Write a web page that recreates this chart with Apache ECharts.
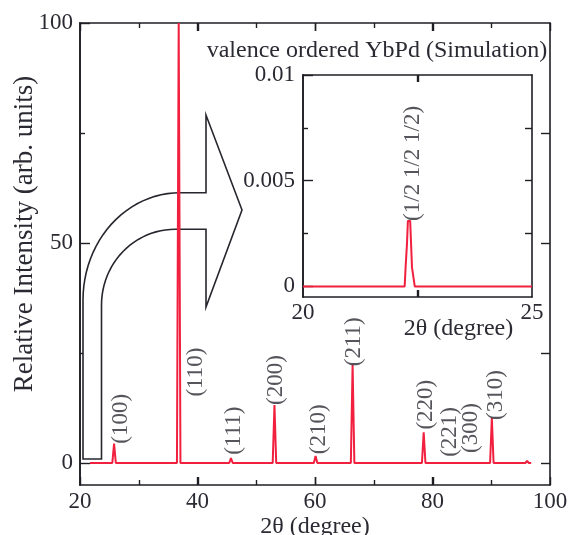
<!DOCTYPE html>
<html>
<head>
<meta charset="utf-8">
<script src="https://cdn.jsdelivr.net/npm/echarts@6/dist/echarts.min.js"></script>
<style>
  html, body { margin: 0; padding: 0; background: #fff; }
  #main { width: 571px; height: 535px; }
</style>
</head>
<body>
<div id="main"></div>
<script>
// main pattern, 2theta (deg) vs relative intensity
var mainPattern = [
    [21.7, 0], [25.5, 0], [25.8, 4.4], [26.1, 0],
    [36.5, 0], [36.8, 100], [37.1, 0],
    [45.4, 0], [45.7, 1.1], [46.0, 0],
    [52.8, 0], [53.1, 13.2], [53.4, 0],
    [59.8, 0], [60.1, 1.6], [60.4, 0],
    [66.1, 0], [66.4, 22.3], [66.7, 0],
    [78.2, 0], [78.5, 7.0], [78.8, 0],
    [83.9, 0], [84.2, 0.4], [84.5, 0],
    [89.8, 0], [90.1, 10.2], [90.4, 0],
    [95.8, 0], [96.1, 0.5], [96.4, 0], [96.8, 0]
];

// peak labels: name, 2theta, intensity at label foot
var peakNames = ['(100)', '(110)', '(111)', '(200)', '(210)', '(211)', '(220)', '(221)', '(300)', '(310)'];
var peakLabelX = [26.9, 39.7, 46.2, 53.4, 60.6, 66.6, 78.9, 82.9, 86.6, 90.8];
var peakLabelY = [4.4, 15.1, 1.9, 13.2, 2.0, 22.0, 7.6, 1.4, 2.3, 9.8];

// inset: superlattice peak
var insetPattern = [
    [20, 0], [22.22, 0], [22.24, 0.0009], [22.26, 0.0009], [22.27, 0.002],
    [22.29, 0.0031], [22.34, 0.0031], [22.36, 0.002], [22.38, 0.0009],
    [22.40, 0.0009], [22.44, 0], [25, 0]
];
var insetLabel = ['(1/2 1/2 1/2)', 22.4, 0.0031];

var mainXTicks = [20, 40, 60, 80, 100];
var mainXMinor = [30, 50, 70, 90];
var mainYTicks = [0, 50, 100];
var mainYMinor = [25, 75];
var insetXTicks = [20, 25];
var insetXMinor = [22.5];
var insetYTicks = [0, 0.005, 0.01];
var insetYMinor = [0.0025, 0.0075];

var FONT = 'Liberation Serif';
var TXT = '#2a2a33';
var AX = '#1e1e24';
var RED = '#f2203f';

var chart = echarts.init(document.getElementById('main'));

function axLine() {
    return { show: true, onZero: false, lineStyle: { color: AX, width: 1.6 } };
}
function ticks(vals, len) {
    return { show: true, inside: true, length: len, customValues: vals, lineStyle: { color: AX, width: 1.4 } };
}
function bare(pos, grid, min, max, tickVals, len) {
    return {
        type: 'value', gridIndex: grid, position: pos, min: min, max: max,
        axisLine: axLine(), axisTick: ticks(tickVals, len),
        axisLabel: { show: false }, splitLine: { show: false }
    };
}

// quarter ellipse from angle a0 to a1 (degrees, screen coords)
function arcPts(cx, cy, rx, ry, a0, a1) {
    var pts = [];
    for (var i = 0; i <= 24; i++) {
        var a = (a0 + (a1 - a0) * i / 24) * Math.PI / 180;
        pts.push([cx + rx * Math.cos(a), cy + ry * Math.sin(a)]);
    }
    return pts;
}

// hollow curved arrow outline (pixels)
var arrowPts = [[83, 459], [101.5, 459], [101.5, 305]]
    .concat(arcPts(175, 305, 73.5, 75.7, 180, 270))
    .concat([[206, 229.3], [206, 307], [242, 210], [206, 115], [206, 192.7], [180, 192.7]])
    .concat(arcPts(180, 300, 97, 107.3, 270, 180))
    .concat([[83, 300]]);

var arrow = {
    type: 'polygon', z: 1,
    shape: { points: arrowPts },
    style: { fill: '#fff', stroke: '#26262e', lineWidth: 1.6 }
};

var peakData = peakNames.map(function (n, i) {
    return { name: n, value: [peakLabelX[i], peakLabelY[i]] };
});

var mainX = bare('bottom', 0, 20, 100, mainXTicks, 8);
mainX.axisLabel = { fontFamily: FONT, fontSize: 23, color: TXT, margin: 5, customValues: mainXTicks };
mainX.name = '2θ (degree)';
mainX.nameLocation = 'middle';
mainX.nameGap = 30;
mainX.nameMoveOverlap = false;
mainX.nameTextStyle = { fontFamily: FONT, fontSize: 24, color: TXT };

var insetX = bare('bottom', 1, 20, 25, insetXMinor, 7);
insetX.axisLabel = { fontFamily: FONT, fontSize: 23, color: TXT, margin: 4, customValues: insetXTicks };
insetX.name = '2θ (degree)';
insetX.nameLocation = 'middle';
insetX.nameGap = 20;
insetX.nameMoveOverlap = false;
insetX.nameTextStyle = { fontFamily: FONT, fontSize: 24, color: TXT, padding: [0, 0, 0, 82] };

var mainY = bare('left', 0, -5, 100, mainYTicks, 10);
mainY.axisLabel = { fontFamily: FONT, fontSize: 23, color: TXT, margin: 7, customValues: mainYTicks };
mainY.name = 'Relative Intensity (arb. units)';
mainY.nameLocation = 'middle';
mainY.nameGap = 42;
mainY.nameMoveOverlap = false;
mainY.nameTextStyle = { fontFamily: FONT, fontSize: 27, color: TXT, padding: [0, 0, 0, 40] };

var insetY = bare('left', 1, -0.0005, 0.01, insetYTicks, 10);
insetY.axisLabel = {
    fontFamily: FONT, fontSize: 23, color: TXT, margin: 8, customValues: insetYTicks,
    formatter: function (v) { return String(+v.toFixed(4)); }
};

var option = {
    animation: false,
    backgroundColor: '#fff',
    title: {
        text: 'valence ordered YbPd (Simulation)',
        left: 372, top: 34, textAlign: 'center',
        textStyle: { fontFamily: FONT, fontSize: 24, fontWeight: 'normal', color: TXT }
    },
    grid: [
        { left: 80, top: 23, right: 21, bottom: 50, outerBoundsMode: 'none' },
        { left: 303, top: 75, width: 229, height: 222, outerBoundsMode: 'none' }
    ],
    xAxis: [
        mainX,
        bare('top', 0, 20, 100, mainXTicks, 8),
        insetX,
        bare('top', 1, 20, 25, insetXMinor, 7)
    ],
    yAxis: [
        mainY,
        bare('left', 0, -5, 100, mainYMinor, 5),
        bare('right', 0, -5, 100, [0, 25, 50, 75], 9),
        insetY,
        bare('left', 1, -0.0005, 0.01, insetYMinor, 5),
        bare('right', 1, -0.0005, 0.01, [0.0025, 0.005, 0.0075], 7)
    ],
    graphic: [arrow],
    series: [
        {
            type: 'line', xAxisIndex: 0, yAxisIndex: 0, z: 5,
            data: mainPattern, showSymbol: false,
            lineStyle: { color: RED, width: 2 }
        },
        {
            type: 'scatter', xAxisIndex: 0, yAxisIndex: 0, z: 6,
            data: peakData, symbolSize: 0, silent: true,
            label: {
                show: true, position: 'inside', rotate: 90, align: 'left', verticalAlign: 'middle',
                formatter: '{b}', fontFamily: FONT, fontSize: 23, color: TXT
            }
        },
        {
            type: 'line', xAxisIndex: 2, yAxisIndex: 3, z: 5,
            data: insetPattern, showSymbol: false,
            lineStyle: { color: RED, width: 2 }
        },
        {
            type: 'scatter', xAxisIndex: 2, yAxisIndex: 3, z: 6,
            data: [{ name: insetLabel[0], value: [insetLabel[1], insetLabel[2]] }],
            symbolSize: 0, silent: true,
            label: {
                show: true, position: 'inside', rotate: 90, align: 'left', verticalAlign: 'middle',
                formatter: '{b}', fontFamily: FONT, fontSize: 23, color: TXT
            }
        }
    ]
};

chart.setOption(option);

// x-axis ticks on the frame (bottom and top, pointing inward), placed through the axes
var extra = [arrow];
function addXTicks(xIdx, yIdx, yLo, yHi, vals, len) {
    var yb = chart.convertToPixel({ yAxisIndex: yIdx }, yLo);
    var yt = chart.convertToPixel({ yAxisIndex: yIdx }, yHi);
    vals.forEach(function (v) {
        var x = Math.round(chart.convertToPixel({ xAxisIndex: xIdx }, v)) + 0.5;
        extra.push({ type: 'line', z: 3, shape: { x1: x, y1: yb, x2: x, y2: yb - len },
            style: { stroke: AX, lineWidth: 1.4 } });
        extra.push({ type: 'line', z: 3, shape: { x1: x, y1: yt, x2: x, y2: yt + len },
            style: { stroke: AX, lineWidth: 1.4 } });
    });
}
addXTicks(0, 0, -5, 100, [40, 60, 80], 8);
addXTicks(0, 0, -5, 100, mainXMinor, 5);
addXTicks(2, 3, -0.0005, 0.01, insetXMinor, 7);
chart.setOption({ graphic: extra });
</script>
</body>
</html>
